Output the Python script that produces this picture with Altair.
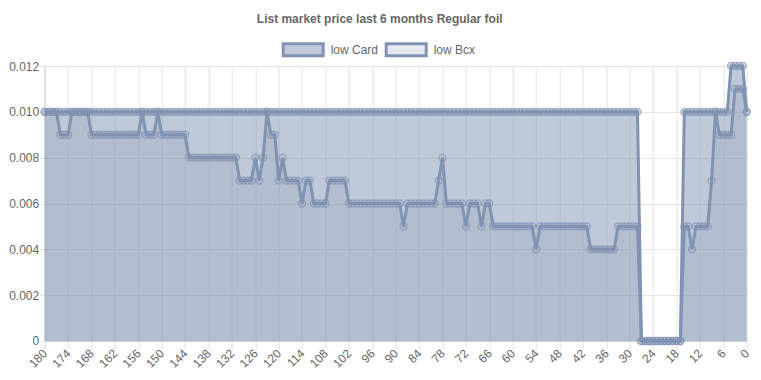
import altair as alt
import pandas as pd

days = list(range(180, -1, -1))

low_card = [
    0.010, 0.010, 0.010, 0.010, 0.010, 0.010, 0.010, 0.010, 0.010, 0.010,  # 180-171
    0.010, 0.010, 0.010, 0.010, 0.010, 0.010, 0.010, 0.010, 0.010, 0.010,  # 170-161
    0.010, 0.010, 0.010, 0.010, 0.010, 0.010, 0.010, 0.010, 0.010, 0.010,  # 160-151
    0.010, 0.010, 0.010, 0.010, 0.010, 0.010, 0.010, 0.010, 0.010, 0.010,  # 150-141
    0.010, 0.010, 0.010, 0.010, 0.010, 0.010, 0.010, 0.010, 0.010, 0.010,  # 140-131
    0.010, 0.010, 0.010, 0.010, 0.010, 0.010, 0.010, 0.010, 0.010, 0.010,  # 130-121
    0.010, 0.010, 0.010, 0.010, 0.010, 0.010, 0.010, 0.010, 0.010, 0.010,  # 120-111
    0.010, 0.010, 0.010, 0.010, 0.010, 0.010, 0.010, 0.010, 0.010, 0.010,  # 110-101
    0.010, 0.010, 0.010, 0.010, 0.010, 0.010, 0.010, 0.010, 0.010, 0.010,  # 100-91
    0.010, 0.010, 0.010, 0.010, 0.010, 0.010, 0.010, 0.010, 0.010, 0.010,  # 90-81
    0.010, 0.010, 0.010, 0.010, 0.010, 0.010, 0.010, 0.010, 0.010, 0.010,  # 80-71
    0.010, 0.010, 0.010, 0.010, 0.010, 0.010, 0.010, 0.010, 0.010, 0.010,  # 70-61
    0.010, 0.010, 0.010, 0.010, 0.010, 0.010, 0.010, 0.010, 0.010, 0.010,  # 60-51
    0.010, 0.010, 0.010, 0.010, 0.010, 0.010, 0.010, 0.010, 0.010, 0.010,  # 50-41
    0.010, 0.010, 0.010, 0.010, 0.010, 0.010, 0.010, 0.010, 0.010, 0.010,  # 40-31
    0.010, 0.010, 0.010, 0.000, 0.000, 0.000, 0.000, 0.000, 0.000, 0.000,  # 30-21
    0.000, 0.000, 0.000, 0.000, 0.010, 0.010, 0.010, 0.010, 0.010, 0.010,  # 20-11
    0.010, 0.010, 0.010, 0.010, 0.010, 0.010, 0.012, 0.012, 0.012, 0.012,  # 10-1
    0.010,                                                                 # 0
]

low_bcx = [
    0.010, 0.010, 0.010, 0.010, 0.009, 0.009, 0.009, 0.010, 0.010, 0.010,  # 180-171
    0.010, 0.010, 0.009, 0.009, 0.009, 0.009, 0.009, 0.009, 0.009, 0.009,  # 170-161
    0.009, 0.009, 0.009, 0.009, 0.009, 0.010, 0.009, 0.009, 0.009, 0.010,  # 160-151
    0.009, 0.009, 0.009, 0.009, 0.009, 0.009, 0.009, 0.008, 0.008, 0.008,  # 150-141
    0.008, 0.008, 0.008, 0.008, 0.008, 0.008, 0.008, 0.008, 0.008, 0.008,  # 140-131
    0.007, 0.007, 0.007, 0.007, 0.008, 0.007, 0.008, 0.010, 0.009, 0.009,  # 130-121
    0.007, 0.008, 0.007, 0.007, 0.007, 0.007, 0.006, 0.007, 0.007, 0.006,  # 120-111
    0.006, 0.006, 0.006, 0.007, 0.007, 0.007, 0.007, 0.007, 0.006, 0.006,  # 110-101
    0.006, 0.006, 0.006, 0.006, 0.006, 0.006, 0.006, 0.006, 0.006, 0.006,  # 100-91
    0.006, 0.006, 0.005, 0.006, 0.006, 0.006, 0.006, 0.006, 0.006, 0.006,  # 90-81
    0.006, 0.007, 0.008, 0.006, 0.006, 0.006, 0.006, 0.006, 0.005, 0.006,  # 80-71
    0.006, 0.006, 0.005, 0.006, 0.006, 0.005, 0.005, 0.005, 0.005, 0.005,  # 70-61
    0.005, 0.005, 0.005, 0.005, 0.005, 0.005, 0.004, 0.005, 0.005, 0.005,  # 60-51
    0.005, 0.005, 0.005, 0.005, 0.005, 0.005, 0.005, 0.005, 0.005, 0.005,  # 50-41
    0.004, 0.004, 0.004, 0.004, 0.004, 0.004, 0.004, 0.005, 0.005, 0.005,  # 40-31
    0.005, 0.005, 0.005, 0.000, 0.000, 0.000, 0.000, 0.000, 0.000, 0.000,  # 30-21
    0.000, 0.000, 0.000, 0.000, 0.005, 0.005, 0.004, 0.005, 0.005, 0.005,  # 20-11
    0.005, 0.007, 0.010, 0.009, 0.009, 0.009, 0.009, 0.011, 0.011, 0.011,  # 10-1
    0.010,                                                                 # 0
]

series_names = ["low Card", "low Bcx"]
x_ticks = list(range(180, -1, -6))
y_ticks = [0, 0.002, 0.004, 0.006, 0.008, 0.010, 0.012]

LINE = "#8193b2"
FILLS = ["rgba(128,147,178,0.5)", "rgba(128,147,178,0.2)"]
FONT = "Liberation Sans"

df = pd.concat([
    pd.DataFrame({"day": days, "value": low_card, "series": series_names[0], "ord": 0}),
    pd.DataFrame({"day": days, "value": low_bcx, "series": series_names[1], "ord": 1}),
])

x_enc = alt.X(
    "day:Q",
    scale=alt.Scale(domain=[0, 180], reverse=True, nice=False, zero=False),
    axis=alt.Axis(
        values=x_ticks, title=None, labelAngle=-45, labelAlign="right",
        labelBaseline="middle", labelFont=FONT, labelFontSize=12,
        labelColor="#666", tickSize=8, tickColor="#e0e0e0", labelPadding=2,
        gridColor="#e5e5e5", domainColor="#d0d0d0", labelOverlap=False,
        labelBound=False, labelFlush=False,
    ),
)
y_enc = alt.Y(
    "value:Q",
    stack=None,
    scale=alt.Scale(domain=[0, 0.012], nice=False),
    axis=alt.Axis(
        values=y_ticks, title=None,
        labelExpr="datum.value == 0 ? '0' : format(datum.value, '.3f')",
        labelFont=FONT, labelFontSize=12, labelColor="#666",
        tickSize=5, tickColor="#e0e0e0", labelPadding=1,
        gridColor="#e5e5e5", domainColor="#d0d0d0",
    ),
)

base = alt.Chart(df)

area = base.mark_area(opacity=1, interpolate="linear").encode(
    x=x_enc,
    y=y_enc,
    fill=alt.Fill(
        "series:N",
        scale=alt.Scale(domain=series_names, range=FILLS),
        legend=alt.Legend(
            title=None, orient="none", direction="horizontal",
            legendX=237, legendY=-38,
            symbolType="M-1,-0.3L1,-0.3L1,0.3L-1,0.3Z",
            symbolSize=1600, symbolStrokeColor=LINE, symbolStrokeWidth=3,
            labelFont=FONT, labelFontSize=12, labelColor="#666",
            labelOffset=6, columnPadding=1,
        ),
    ),
    order=alt.Order("ord:Q"),
)

line = base.mark_line(strokeWidth=3, color=LINE).encode(
    x=x_enc, y=y_enc, detail="series:N"
)

pts = base.mark_point(shape="circle", size=50, strokeWidth=1.2, stroke=LINE, filled=False).encode(
    x=x_enc, y=y_enc,
    fill=alt.Fill("series:N", scale=alt.Scale(domain=series_names, range=FILLS), legend=None),
)

chart = alt.layer(area, line, pts).properties(
    width=702,
    height=275,
    title=alt.TitleParams(
        "List market price last 6 months Regular foil",
        font=FONT, fontSize=12, fontWeight="bold", color="#666",
        anchor="middle", dx=-16, offset=14, dy=12,
    ),
    autosize=alt.AutoSizeParams(type="none"),
    padding={"left": 36.7, "top": 58, "right": 6, "bottom": 31},
).configure_view(stroke=None).configure_axisX(labelOverlap=False)

chart.save("out.html", embed_options={"renderer": "svg", "actions": False})
